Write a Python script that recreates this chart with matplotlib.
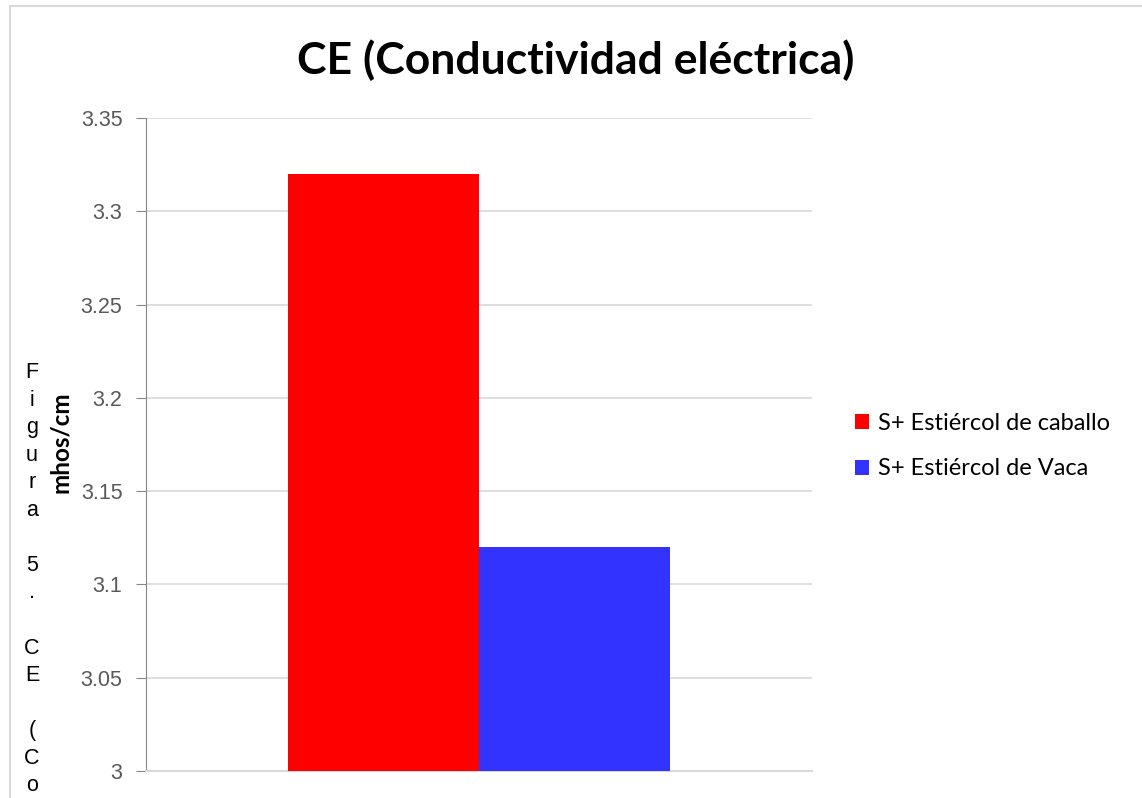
import matplotlib
matplotlib.use("Agg")
import matplotlib.pyplot as plt
from matplotlib.patches import Patch, Rectangle

series = ["S+ Estiércol de caballo", "S+ Estiércol de Vaca"]
values = [3.32, 3.12]
colors = ["#FF0000", "#3333FF"]
yticks = [3.0, 3.05, 3.1, 3.15, 3.2, 3.25, 3.3, 3.35]
ytick_labels = ["3", "3.05", "3.1", "3.15", "3.2", "3.25", "3.3", "3.35"]
title = "CE (Conductividad eléctrica)"
ylabel = "mhos/cm"
stray = "Figura 5. CE (Co"

W, H = 1142, 798
fig = plt.figure(figsize=(W / 100, H / 100), dpi=100)
fig.patch.set_facecolor("white")

# chart border
fig.add_artist(Rectangle((10 / W, -0.1), 1.2, 1 - 6 / H + 0.1, transform=fig.transFigure,
                         fill=False, edgecolor="#d9d9d9", linewidth=1.5))

ax = fig.add_axes([146 / W, 1 - 771 / H, (812 - 146) / W, (771 - 118) / H])
bw = 0.2868
offsets = [-bw / 2, bw / 2]
for v, c, o, s in zip(values, colors, offsets, series):
    ax.bar(o, v - 3.0, bottom=3.0, width=bw, color=c, label=s, zorder=3)

ax.set_xlim(-0.5, 0.5)
ax.set_ylim(3.0, 3.35)
ax.set_yticks(yticks)
ax.set_yticklabels(ytick_labels, fontfamily="Liberation Sans", fontsize=15.5, color="#595959")
ax.set_xticks([])
ax.yaxis.grid(True, color="#d9d9d9", linewidth=1.2, zorder=0)
ax.set_axisbelow(True)
for sp in ["top", "right"]:
    ax.spines[sp].set_visible(False)
ax.spines["left"].set_color("#868686")
ax.spines["bottom"].set_color("#d9d9d9")
ax.spines["bottom"].set_linewidth(1.5)
ax.tick_params(axis="y", length=7, color="#868686", pad=10)

fig.text(576 / W, 1 - 60 / H, title, ha="center", va="center",
         fontfamily="Lato", fontweight="bold", fontsize=32)
fig.text(60 / W, 1 - 442 / H, ylabel, ha="center", va="center", rotation=90,
         fontfamily="Lato", fontweight="bold", fontsize=17.5)

# stray vertical caption text
chars = "\n".join(list(stray))
fig.text(32 / W, 1 - 362 / H, chars, ha="center", va="top", fontfamily="Liberation Sans",
         fontsize=15.5, linespacing=1.41, color="black")

handles = [Patch(facecolor=c, edgecolor="none") for c in colors]
fig.legend(handles, series, loc="center left", bbox_to_anchor=(834 / W, 1 - 446 / H),
           frameon=False, prop={"family": "Lato", "size": 17}, handlelength=0.6,
           handleheight=0.6, handletextpad=0.35, labelspacing=1.05)

fig.savefig("out.png", dpi=100)
